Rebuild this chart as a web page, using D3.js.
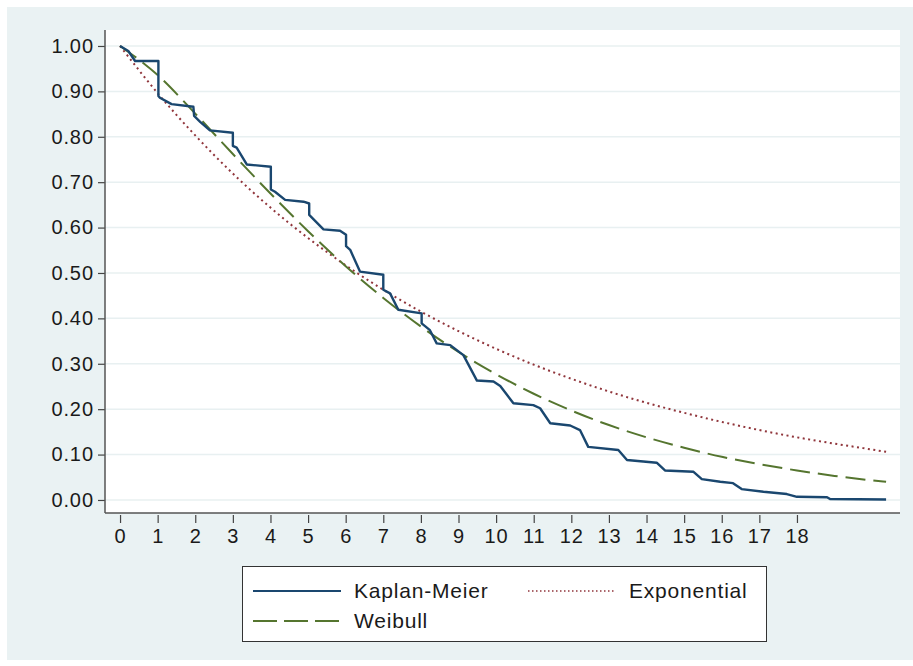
<!DOCTYPE html>
<html>
<head>
<meta charset="utf-8">
<script src="https://cdn.jsdelivr.net/npm/d3@7"></script>
<style>
  body { margin: 0; background: #fff; }
  text { font-family: "Liberation Sans", Arial, sans-serif; fill: #1a1a1a; }
</style>
</head>
<body>
<div id="chart"></div>
<script>
// Kaplan-Meier estimate
const kmTime = [0, 0.22, 0.40, 1.02, 1.02, 1.06, 1.37, 1.95, 1.97, 2.13, 2.39, 3.00, 3.00, 3.10, 3.37,
    4.01, 4.01, 4.12, 4.39, 4.88, 5.03, 5.03, 5.41, 5.85, 6.01, 6.01, 6.12, 6.38, 7.00, 7.00, 7.18, 7.40,
    8.02, 8.02, 8.24, 8.42, 8.78, 9.13, 9.49, 9.93, 10.11, 10.46, 10.99, 11.17, 11.44, 11.97, 12.23, 12.45,
    13.25, 13.48, 14.27, 14.49, 15.25, 15.47, 15.96, 16.30, 16.53, 17.11, 17.73, 18.00, 18.80, 18.88, 20.37];
const kmSurv = [1.000, 0.989, 0.967, 0.967, 0.890, 0.886, 0.872, 0.866, 0.846, 0.833, 0.814, 0.809, 0.780, 0.776, 0.739,
    0.734, 0.684, 0.679, 0.661, 0.657, 0.653, 0.628, 0.596, 0.593, 0.584, 0.559, 0.551, 0.503, 0.496, 0.463, 0.455, 0.419,
    0.411, 0.389, 0.374, 0.345, 0.341, 0.319, 0.263, 0.261, 0.251, 0.213, 0.209, 0.202, 0.169, 0.164, 0.154, 0.117,
    0.110, 0.088, 0.082, 0.065, 0.062, 0.046, 0.040, 0.037, 0.024, 0.018, 0.013, 0.007, 0.006, 0.002, 0.001];

// fitted curves, read at whole years
const fitTime = [0, 1, 2, 3, 4, 5, 6, 7, 8, 9, 10, 11, 12, 13, 14, 15, 16, 17, 18, 19, 20, 20.37];
const expSurv = [1.000, 0.896, 0.803, 0.719, 0.644, 0.577, 0.517, 0.463, 0.415, 0.372, 0.333,
    0.298, 0.267, 0.239, 0.214, 0.192, 0.172, 0.154, 0.138, 0.124, 0.111, 0.106];
const weiSurv = [1.000, 0.936, 0.851, 0.762, 0.675, 0.592, 0.515, 0.445, 0.382, 0.326, 0.277,
    0.234, 0.197, 0.165, 0.138, 0.115, 0.095, 0.079, 0.065, 0.053, 0.043, 0.040];

const xTicks = d3.range(0, 19);
const yTicks = [0, 0.1, 0.2, 0.3, 0.4, 0.5, 0.6, 0.7, 0.8, 0.9, 1.0];

const W = 913, H = 666;
const plot = { left: 105, top: 30, right: 900, bottom: 513 };

const svg = d3.select("#chart").append("svg")
    .attr("width", W).attr("height", H);

svg.append("rect").attr("x", 7).attr("y", 7).attr("width", W - 7).attr("height", 653)
    .attr("fill", "#eaf2f3");
svg.append("rect").attr("x", plot.left).attr("y", plot.top)
    .attr("width", plot.right - plot.left).attr("height", plot.bottom - plot.top)
    .attr("fill", "#fff");

const x = d3.scaleLinear().domain([-0.4, 20.74]).range([plot.left, plot.right]);
const y = d3.scaleLinear().domain([-0.0287, 1.0352]).range([plot.bottom, plot.top]);

// grid
svg.append("g").selectAll("line").data(yTicks).join("line")
    .attr("x1", plot.left).attr("x2", plot.right)
    .attr("y1", d => y(d)).attr("y2", d => y(d))
    .attr("stroke", "#e8f0f1").attr("stroke-width", 1.5);

// axes
const yAxis = svg.append("g")
    .attr("transform", `translate(${plot.left},0)`)
    .call(d3.axisLeft(y).tickValues(yTicks).tickFormat(d3.format(".2f")).tickSize(7).tickPadding(5));
const xAxis = svg.append("g")
    .attr("transform", `translate(0,${plot.bottom + 2})`)
    .call(d3.axisBottom(x).tickValues(xTicks).tickSize(8).tickPadding(6));

[yAxis, xAxis].forEach(g => {
    g.select(".domain").remove();
    g.selectAll("line").attr("stroke", "#444").attr("stroke-width", 1.2);
    g.selectAll("text").style("font-size", "20px").style("letter-spacing", "0.9px").attr("fill", "#1a1a1a");
});
yAxis.selectAll("text").attr("dx", "0.9px");
xAxis.append("line").attr("x1", plot.left).attr("x2", plot.right)
    .attr("y1", -2).attr("y2", -2).attr("stroke", "#555").attr("stroke-width", 1.5);
yAxis.append("line").attr("x1", 0).attr("x2", 0)
    .attr("y1", plot.top).attr("y2", plot.bottom).attr("stroke", "#555").attr("stroke-width", 1.5);

const line = d3.line().x(d => x(d[0])).y(d => y(d[1]));
const smooth = d3.line().x(d => x(d[0])).y(d => y(d[1])).curve(d3.curveMonotoneX);

svg.append("path")
    .datum(fitTime.map((t, i) => [t, expSurv[i]]))
    .attr("fill", "none").attr("stroke", "#90353b").attr("stroke-width", 2)
    .attr("stroke-dasharray", "2,3.5").attr("d", smooth);

svg.append("path")
    .datum(fitTime.map((t, i) => [t, weiSurv[i]]))
    .attr("fill", "none").attr("stroke", "#55752f").attr("stroke-width", 2)
    .attr("stroke-dasharray", "20,8").attr("d", smooth);

svg.append("path")
    .datum(kmTime.map((t, i) => [t, kmSurv[i]]))
    .attr("fill", "none").attr("stroke", "#1a476f").attr("stroke-width", 2.4)
    .attr("stroke-linejoin", "round").attr("d", line);

// legend
const legend = svg.append("g");
legend.append("rect").attr("x", 242.5).attr("y", 566.5).attr("width", 524).attr("height", 75)
    .attr("fill", "#fff").attr("stroke", "#333").attr("stroke-width", 1);

const items = [
    { name: "Kaplan-Meier", color: "#1a476f", dash: null, w: 2, lx: 253, ty: 591 },
    { name: "Exponential", color: "#90353b", dash: "1.5,2.5", w: 1.5, lx: 528, ty: 591 },
    { name: "Weibull", color: "#55752f", dash: "24,7", w: 2, lx: 253, ty: 621 }
];
items.forEach(it => {
    legend.append("line").attr("x1", it.lx).attr("x2", it.lx + 88)
        .attr("y1", it.ty).attr("y2", it.ty)
        .attr("stroke", it.color).attr("stroke-width", it.w)
        .attr("stroke-dasharray", it.dash);
    legend.append("text").attr("x", it.lx + 101).attr("y", it.ty)
        .attr("dy", "0.35em").style("font-size", "21px").style("letter-spacing", "0.8px").text(it.name);
});
</script>
</body>
</html>
